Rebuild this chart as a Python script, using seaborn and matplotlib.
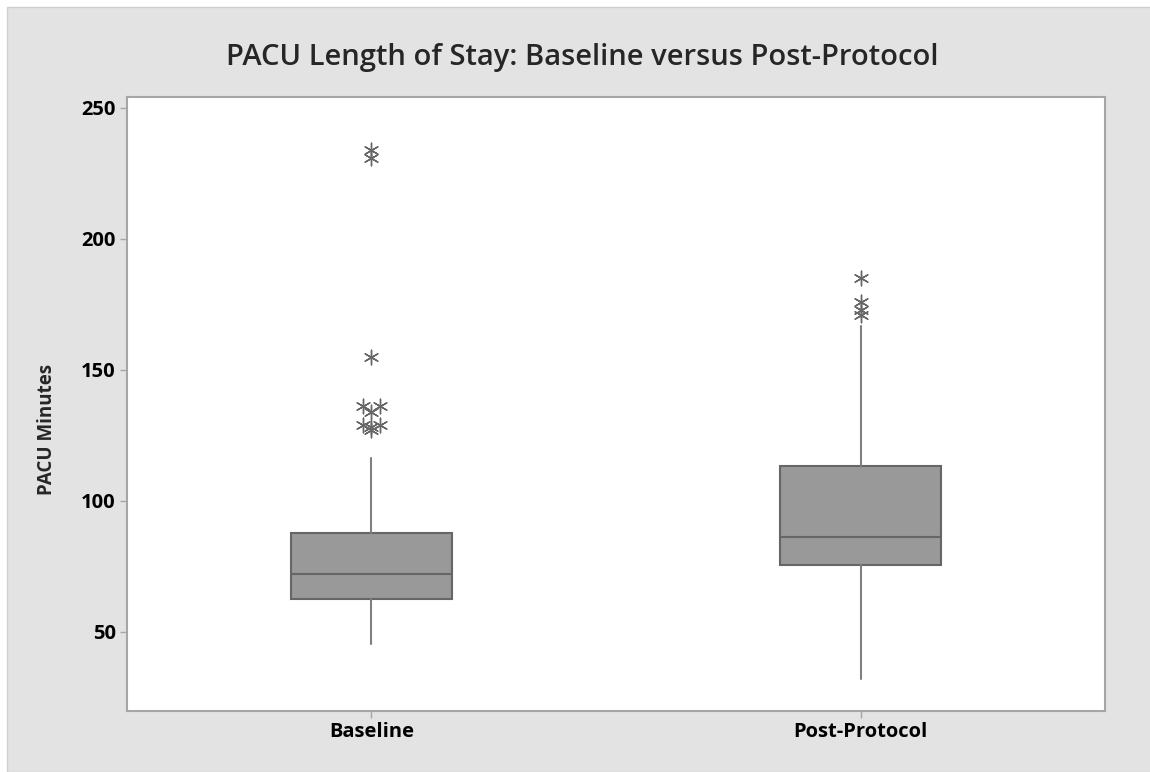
import numpy as np
import seaborn as sns
import matplotlib.pyplot as plt
from matplotlib.patches import Rectangle
from collections import Counter

# Box summaries
groups = ["Baseline", "Post-Protocol"]
whisker_low = [45.3, 32.0]
q1 = [62.6, 75.4]
medians = [71.9, 86.2]
q3 = [87.7, 113.4]
whisker_high = [116.3, 166.7]
outliers_baseline = [234, 231, 155, 136, 136, 134, 129, 129, 128, 127]
outliers_post = [185, 176, 173, 171]
outliers = [outliers_baseline, outliers_post]
y_ticks = [50, 100, 150, 200, 250]

BG = "#e3e3e3"
BOX_FILL = "#999999"
BOX_EDGE = "#666666"
SPINE = "#a6a6a6"


def main():
    sns.set_theme(style="white")
    plt.rcParams["font.family"] = ["Open Sans", "DejaVu Sans"]

    fig = plt.figure(figsize=(11.5, 7.72), dpi=100, facecolor="white")
    # grey panel behind the chart, like the Minitab graph window
    fig.patches.append(Rectangle((7 / 1150, 0), 1, 1 - 7 / 772, transform=fig.transFigure,
                                 facecolor=BG, edgecolor="#d0d0d0", linewidth=1, zorder=-1))
    ax = fig.add_axes([0.1104, 0.079, 0.8505, 0.7954])
    ax.set_facecolor("white")

    stats = []
    for i, g in enumerate(groups):
        stats.append({"label": g, "whislo": whisker_low[i], "q1": q1[i], "med": medians[i],
                      "q3": q3[i], "whishi": whisker_high[i], "fliers": []})

    ax.bxp(stats, positions=[0, 1], widths=0.33, patch_artist=True, showcaps=False,
           showfliers=False,
           boxprops=dict(facecolor=BOX_FILL, edgecolor=BOX_EDGE, linewidth=1.5),
           medianprops=dict(color=BOX_EDGE, linewidth=1.5),
           whiskerprops=dict(color="#808080", linewidth=1.5))

    # outliers as asterisks; repeated values sit side by side
    for i, vals in enumerate(outliers):
        counts = Counter(vals)
        seen = Counter()
        xs = []
        for v in vals:
            n = counts[v]
            k = seen[v]
            seen[v] += 1
            xs.append(i + (k - (n - 1) / 2) * 0.036)
        ax.scatter(xs, vals, marker=(6, 2, 0), s=110, color="#666666", linewidths=1.0, zorder=3)

    ax.set_xlim(-0.5, 1.5)
    ax.set_ylim(19.7, 254.2)
    ax.set_xticks([0, 1])
    ax.set_xticklabels(groups)
    ax.set_yticks(y_ticks)

    for s in ax.spines.values():
        s.set_color(SPINE)
        s.set_linewidth(1.5)

    ax.tick_params(axis="both", which="major", labelsize=14.5, colors=SPINE, labelcolor="black",
                   length=5, width=1, pad=3, left=True, bottom=True)
    for lab in ax.get_xticklabels() + ax.get_yticklabels():
        lab.set_fontweight("bold")

    ax.set_ylabel("PACU Minutes", fontsize=13.5, fontweight="bold")
    ax.yaxis.set_label_coords(-0.072, 0.458)
    fig.text(0.506, 0.925, "PACU Length of Stay: Baseline versus Post-Protocol",
             ha="center", va="center", fontsize=21, fontweight="semibold")

    fig.savefig("out.png", dpi=100, facecolor=fig.get_facecolor())


if __name__ == "__main__":
    main()
